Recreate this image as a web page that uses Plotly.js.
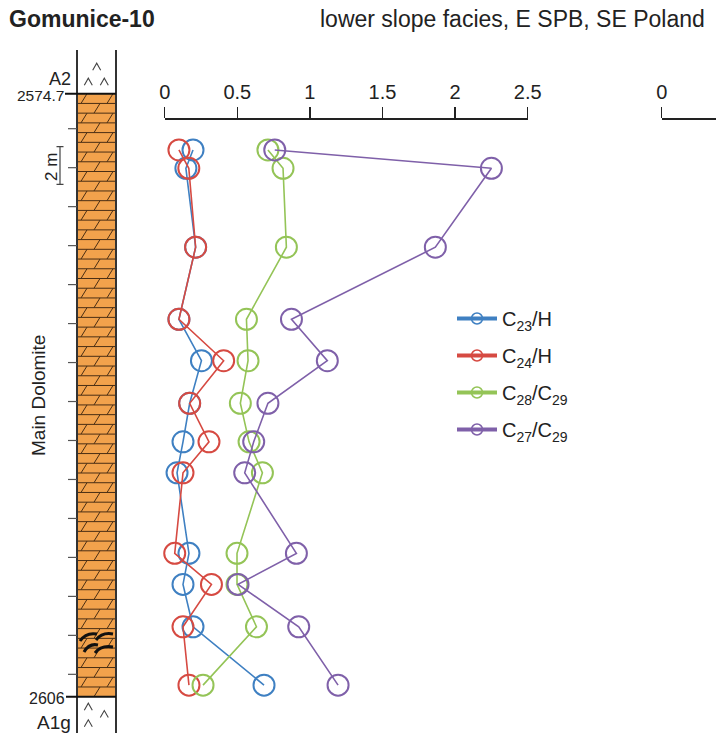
<!DOCTYPE html>
<html><head><meta charset="utf-8">
<script src="https://cdn.plot.ly/plotly-3.0.1.min.js"></script>
<style>html,body{margin:0;padding:0;background:#fff}</style>
</head><body><div id="chart" style="width:716px;height:733px"></div>
<script>
// ---- data ----
const depth  = [2577.62, 2578.57, 2582.67, 2586.41, 2588.56, 2590.77, 2592.77, 2594.38, 2598.56, 2600.17, 2602.37, 2605.40];
const c23H   = [0.195, 0.146, 0.213, 0.098, 0.253, 0.172, 0.126, 0.085, 0.167, 0.126, 0.195, 0.684];
const c24H   = [0.098, 0.166, 0.213, 0.098, 0.406, 0.172, 0.305, 0.126, 0.069, 0.322, 0.126, 0.167];
const c28C29 = [0.711, 0.815, 0.838, 0.563, 0.574, 0.521, 0.581, 0.673, 0.498, 0.498, 0.632, 0.264];
const c27C29 = [0.758, 2.250, 1.864, 0.873, 1.120, 0.711, 0.613, 0.551, 0.907, 0.505, 0.923, 1.194];
const seriesNames  = ['C<sub>23</sub>/H', 'C<sub>24</sub>/H', 'C<sub>28</sub>/C<sub>29</sub>', 'C<sub>27</sub>/C<sub>29</sub>'];
const seriesValues = [c23H, c24H, c28C29, c27C29];
const seriesColors = ['#3f80c2', '#d64a42', '#94c457', '#7f60a9'];
const xTickVals = [0, 0.5, 1, 1.5, 2, 2.5];
const xTickText = ['0', '0.5', '1', '1.5', '2', '2.5'];
const topDepth = 2574.7, baseDepth = 2606;
const topLabel = '2574.7', baseLabel = '2606';
const unitAbove = 'A2', unitBelow = 'A1g', unitName = 'Main Dolomite';
const wellName = 'Gomunice-10', subtitle = 'lower slope facies, E SPB, SE Poland';

// ---- layout geometry ----
const W = 716, H = 733;
const topPx = 93.7, basePx = 696.7;
const S = (basePx - topPx) / (baseDepth - topDepth);
const yMin = topDepth - topPx / S, yMax = topDepth + (H - topPx) / S;
const FONT = 'Liberation Sans, Arial, sans-serif';
const colL = 77, colR = 116;
const axisPos = 1 - 119 / H;

const traces = [];
seriesValues.forEach((v, i) => {
  traces.push({
    x: v, y: depth, xaxis: 'x', yaxis: 'y', mode: 'lines+markers', showlegend: false,
    line: {color: seriesColors[i], width: 1.6},
    marker: {symbol: 'circle-open', size: 21, color: seriesColors[i], line: {width: 2, color: seriesColors[i]}},
    cliponaxis: false, hoverinfo: 'skip'
  });
});
seriesValues.forEach((v, i) => {
  traces.push({
    x: [null], y: [null], xaxis: 'x', yaxis: 'y', mode: 'lines+markers', name: seriesNames[i],
    legendgroup: 'g' + i, showlegend: true,
    line: {color: seriesColors[i], width: 4},
    marker: {symbol: 'circle-open', size: 11, color: seriesColors[i], line: {width: 1.5, color: seriesColors[i]}}
  });
});
traces.push({x: [null], y: [null], xaxis: 'x2', yaxis: 'y2', showlegend: false, hoverinfo: 'skip'});
traces.push({x: [null], y: [null], xaxis: 'x3', yaxis: 'y', showlegend: false, hoverinfo: 'skip'});

// ---- lithology column ----
const shapes = [];
const dark = '#333';
shapes.push({type: 'rect', xref: 'x2', yref: 'y', x0: colL, x1: colR, y0: topDepth, y1: baseDepth,
  fillcolor: '#f2a24c', line: {width: 0}, layer: 'above'});
const rows = 62, rowH = (baseDepth - topDepth) / rows;
let hp = '', sp = '';
for (let k = 0; k < rows; k++) {
  const yt = topDepth + k * rowH, yb = yt + rowH;
  if (k > 0) hp += `M${colL},${yt}L${colR},${yt}`;
  const cs = (k % 2 === 0) ? [84, 110] : [97];
  cs.forEach(c => { sp += `M${c - 3},${yb}L${c + 3},${yt}`; });
}
shapes.push({type: 'path', xref: 'x2', yref: 'y', path: hp, line: {color: '#4a2e14', width: 1}});
shapes.push({type: 'path', xref: 'x2', yref: 'y', path: sp, line: {color: '#4a2e14', width: 1}});
// borders
shapes.push({type: 'line', xref: 'x2', yref: 'y2', x0: colL, x1: colL, y0: 50, y1: H, line: {color: dark, width: 2}});
shapes.push({type: 'line', xref: 'x2', yref: 'y2', x0: colR, x1: colR, y0: 50, y1: H, line: {color: dark, width: 2}});
shapes.push({type: 'line', xref: 'x2', yref: 'y', x0: 65, x1: colR, y0: topDepth, y1: topDepth, line: {color: '#111', width: 2}});
shapes.push({type: 'line', xref: 'x2', yref: 'y', x0: 66, x1: colR, y0: baseDepth, y1: baseDepth, line: {color: '#111', width: 2}});
// depth ticks every ~2 m
for (let k = 0; k < 15; k++) {
  const d = 2576.517 + k * 2.023;
  shapes.push({type: 'line', xref: 'x2', yref: 'y', x0: 68, x1: colL, y0: d, y1: d, line: {color: '#555', width: 1.2}});
}
// 2 m scale bar
shapes.push({type: 'path', xref: 'x2', yref: 'y2', path: 'M56.5,146.7L63.5,146.7M60,146.7L60,184.3M56.5,184.3L63.5,184.3', line: {color: '#444', width: 1.2}});
// evaporite carets
const carets = [[96.7, 66.7], [88.3, 81.7], [104.3, 81.7], [88.3, 706.7], [104.3, 714], [88.3, 723.3]];
let cp = '';
carets.forEach(([x, y]) => { cp += `M${x - 4},${y + 3.5}L${x},${y - 3.5}L${x + 4},${y + 3.5}`; });
shapes.push({type: 'path', xref: 'x2', yref: 'y2', path: cp, line: {color: '#444', width: 1.1}});
// dark lenses
shapes.push({type: 'path', xref: 'x2', yref: 'y2',
  path: 'M80,641Q86,632 97,634M96,640Q102,632 113,634M84,652Q89,643 98,645M95,653Q101,645 113,647',
  line: {color: '#111', width: 3}});

const ann = [];
function txt(t, x, y, size, opts) {
  ann.push(Object.assign({text: t, x: x, y: y, xref: 'x2', yref: 'y2', showarrow: false,
    font: {family: FONT, size: size, color: '#222'}, xanchor: 'center', yanchor: 'middle'}, opts || {}));
}
txt('<b>' + wellName + '</b>', 7, 19, 23, {xanchor: 'left'});
txt(subtitle, 707, 19, 23, {xanchor: 'right'});
txt(unitName, 38, 396, 19, {textangle: -90});
txt(unitAbove, 73, 78.5, 18, {xanchor: 'right'});
txt(topLabel, 66, 95, 15.5, {xanchor: 'right'});
txt(baseLabel, 67, 698, 16, {xanchor: 'right'});
txt(unitBelow, 73, 722, 19, {xanchor: 'right'});
txt('2 m', 51, 167, 17, {textangle: -90});

const axStyle = {
  side: 'top', anchor: 'free', position: axisPos, showline: true, linewidth: 2, linecolor: '#222',
  ticks: 'outside', ticklen: 11, tickwidth: 1.5, tickcolor: '#222', showgrid: false, zeroline: false,
  tickfont: {family: FONT, size: 20, color: '#222'}, fixedrange: true
};

const layout = {
  width: W, height: H, margin: {l: 0, r: 0, t: 0, b: 0, pad: 0},
  paper_bgcolor: '#fff', plot_bgcolor: 'rgba(0,0,0,0)',
  font: {family: FONT, color: '#222'},
  xaxis: Object.assign({}, axStyle, {domain: [164.7 / W, 527.7 / W], range: [0, 2.5], tickvals: xTickVals, ticktext: xTickText}),
  xaxis3: Object.assign({}, axStyle, {domain: [661.7 / W, 1], range: [0, 1], tickvals: [0], ticktext: ['0']}),
  yaxis: {domain: [0, 1], range: [yMax, yMin], visible: false, fixedrange: true},
  xaxis2: {domain: [0, 1], range: [0, W], visible: false, anchor: 'y2', fixedrange: true},
  yaxis2: {domain: [0, 1], range: [H, 0], visible: false, anchor: 'x2', fixedrange: true},
  showlegend: true,
  legend: {x: 452 / W, y: 1 - 299 / H, xanchor: 'left', yanchor: 'top', bgcolor: 'rgba(0,0,0,0)',
    font: {family: FONT, size: 20, color: '#222'}, tracegroupgap: 8, itemwidth: 40},
  shapes: shapes, annotations: ann
};
Plotly.newPlot('chart', traces, layout, {staticPlot: true, displayModeBar: false});
</script></body></html>
